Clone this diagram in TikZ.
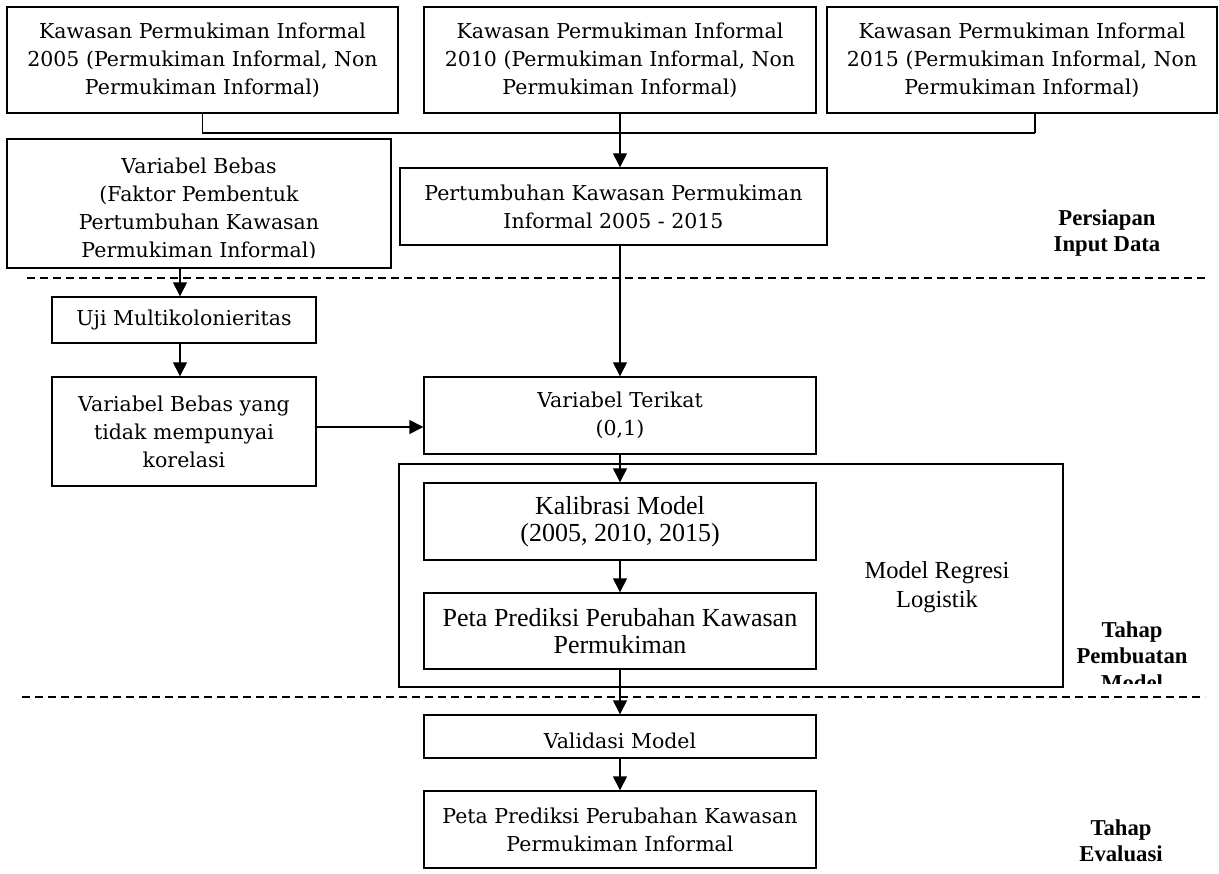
\documentclass[tikz,border=0pt]{standalone}
\usepackage{fontspec}
\setmainfont{Liberation Serif}
\newfontfamily\cambfam{DejaVu Serif}
\usetikzlibrary{arrows.meta}
\newcommand\cambtxt{\cambfam\fontsize{20.5}{28}\selectfont}
\newcommand\timestxt{\fontsize{26}{27}\selectfont}
\newcommand\modeltxt{\fontsize{24.5}{29}\selectfont}
\newcommand\labtxt{\bfseries\fontsize{22.7}{26.5}\selectfont}
\begin{document}
\begin{tikzpicture}[x=1pt,y=-1pt,
  box/.style={draw,line width=1.4pt,inner sep=0pt,align=center,font=\cambtxt},
  tbox/.style={box,font=\timestxt},
  plain/.style={inner sep=0pt,align=center,font=\cambtxt},
  lab/.style={inner sep=0pt,align=center,font=\labtxt},
  conn/.style={line width=1.4pt},
  arrowline/.style={line width=1.4pt,-{Triangle[length=14pt,width=14pt]}},
  sepline/.style={line width=1.5pt,dash pattern=on 8pt off 5pt}]
\useasboundingbox (0,0) rectangle (1219,874);

% top boxes
\node[box,minimum width=391pt,minimum height=106pt] (a1) at (202.5,60)
  {Kawasan Permukiman Informal\\2005 (Permukiman Informal, Non\\Permukiman Informal)};
\node[box,minimum width=392pt,minimum height=106pt] (a2) at (620,60)
  {Kawasan Permukiman Informal\\2010 (Permukiman Informal, Non\\Permukiman Informal)};
\node[box,minimum width=390pt,minimum height=106pt] (a3) at (1022,60)
  {Kawasan Permukiman Informal\\2015 (Permukiman Informal, Non\\Permukiman Informal)};

\node[box,minimum width=427pt,minimum height=77pt] (pert) at (613.5,206.5)
  {Pertumbuhan Kawasan Permukiman\\Informal 2005 - 2015};

% Variabel Bebas box (text clipped)
\node[box,minimum width=384pt,minimum height=129pt] (vb) at (199,203.5) {};
\begin{scope}
  \clip (7,139) rectangle (391,257.5);
  \node[plain,anchor=north] (vbt) at (199,157.4)
    {Variabel Bebas\\(Faktor Pembentuk\\Pertumbuhan Kawasan\\Permukiman Informal)};
\end{scope}

\node[box,minimum width=264pt,minimum height=46pt] (uji) at (184,320) {Uji Multikolonieritas};
\node[box,minimum width=264pt,minimum height=109pt] (vby) at (184,431.5)
  {Variabel Bebas yang\\tidak mempunyai\\korelasi};
\node[box,minimum width=392pt,minimum height=77pt] (ter) at (620,415.5)
  {Variabel Terikat\\(0,1)};

% model group
\node[draw,line width=1.4pt,inner sep=0pt,minimum width=664pt,minimum height=223pt] (modelbox) at (731,575.5) {};
\node[tbox,minimum width=392pt,minimum height=77pt] (kal) at (620,521.5)
  {Kalibrasi Model\\(2005, 2010, 2015)};
\node[tbox,minimum width=392pt,minimum height=76pt] (peta) at (620,631)
  {Peta Prediksi Perubahan Kawasan\\Permukiman};
\node[inner sep=0pt,align=center,font=\modeltxt,anchor=north] (modellab) at (937,561.3)
  {Model Regresi\\Logistik};

% Validasi (text clipped)
\node[box,minimum width=392pt,minimum height=43pt] (val) at (620,736.5) {};
\begin{scope}
  \clip (424,715) rectangle (816,748);
  \node[plain,anchor=north] (valt) at (620,732.7) {Validasi Model};
\end{scope}

\node[box,minimum width=392pt,minimum height=77pt] (final) at (620,829.5)
  {Peta Prediksi Perubahan Kawasan\\Permukiman Informal};

% stage labels
\node[lab,anchor=north] (lab1) at (1107,209.5) {Persiapan\\Input Data};
\begin{scope}
  \clip (1050,600) rectangle (1219,683);
  \node[lab,anchor=north] (lab2) at (1132,621.5) {Tahap\\Pembuatan\\Model};
\end{scope}
\begin{scope}
  \clip (1040,800) rectangle (1219,861);
  \node[lab,anchor=north] (lab3) at (1121,819.5) {Tahap\\Evaluasi};
\end{scope}

% separators
\coordinate (s1a) at (27,278);
\coordinate (s1b) at (1205,278);
\coordinate (s2a) at (22,697);
\coordinate (s2b) at (1205,697);
\draw[sepline] (s1a) -- (s1b);
\draw[sepline] (s2a) -- (s2b);

% connectors
\coordinate (j3) at (1035,133);
\coordinate (c180) at (180,0);
\coordinate (r427) at (0,427);
\draw[conn] (a1.south) |- (j3);
\draw[conn] (j3) -- (j3 |- a3.south);
\draw[conn] (a2.south) -- (a2.south |- j3);
\draw[arrowline] (a2.south |- j3) -- (pert.north -| a2.south);
\draw[arrowline] (vb.south -| c180) -- (uji.north -| c180);
\draw[arrowline] (uji.south -| c180) -- (vby.north -| c180);
\draw[arrowline] (vby.east |- r427) -- (ter.west |- r427);
\draw[arrowline] (pert.south -| ter.north) -- (ter.north);
\draw[arrowline] (ter.south) -- (kal.north);
\draw[arrowline] (kal.south) -- (peta.north);
\draw[arrowline] (peta.south) -- (val.north);
\draw[arrowline] (val.south) -- (final.north);
\end{tikzpicture}
\end{document}
